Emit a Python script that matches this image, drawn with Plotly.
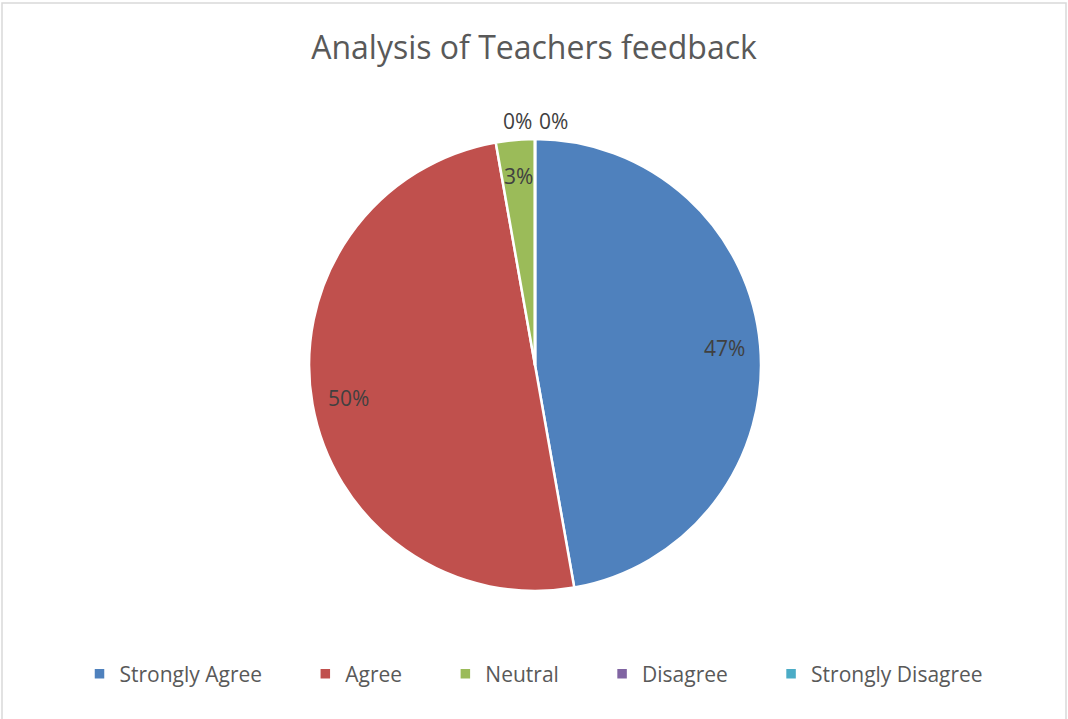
import math
import plotly.graph_objects as go

# Teachers feedback responses (counts)
labels = ["Strongly Agree", "Agree", "Neutral", "Disagree", "Strongly Disagree"]
counts = [17, 18, 1, 0, 0]
colors = ["#4F81BD", "#C0504D", "#9BBB59", "#8064A2", "#4BACC6"]

FONT = "Open Sans"
GREY = "#595959"
W, H = 1068, 719

# pie placement in pixels (centre + radius)
cx, cy, r = 535, 365, 226

fig = go.Figure()

fig.add_trace(go.Pie(
    labels=[lab + "\u00a0" * 7 if i < len(labels) - 1 else lab
            for i, lab in enumerate(labels)],
    values=counts,
    marker=dict(colors=colors, line=dict(color="white", width=2.5)),
    sort=False,
    direction="clockwise",
    rotation=0,
    textinfo="none",
    domain=dict(x=[(cx - r) / W, (cx + r) / W], y=[1 - (cy + r) / H, 1 - (cy - r) / H]),
    showlegend=True,
    hovertemplate="%{label}: %{percent}<extra></extra>",
))

# data labels, Excel-style: near the outer edge of each slice
total = sum(counts)
cum = 0
zero_i = 0
for c in counts:
    pct = f"{c / total:.0%}"
    if c == 0:
        # zero slices have no wedge; Excel stacks their labels above the top
        x, y = 517 + 36 * zero_i, 121
        zero_i += 1
    else:
        mid = (cum + c / 2) / total * 2 * math.pi
        x = cx + 0.84 * r * math.sin(mid)
        y = cy - 0.84 * r * math.cos(mid)
    cum += c
    fig.add_annotation(x=x / W, y=1 - y / H, xref="paper", yref="paper",
                       xanchor="center", yanchor="middle", text=pct, showarrow=False,
                       font=dict(family=FONT, size=21, color="#404040"))

fig.update_layout(
    width=W, height=H,
    margin=dict(l=0, r=0, t=0, b=0),
    paper_bgcolor="white",
    title=dict(text="Analysis of Teachers feedback", x=0.5, xanchor="center",
               y=1 - 48 / H, yanchor="middle",
               font=dict(family=FONT, size=32, color=GREY)),
    legend=dict(orientation="h", x=0.5, xanchor="center", y=1 - 674 / H,
                yanchor="middle", font=dict(family=FONT, size=21, color=GREY),
                itemclick=False, itemdoubleclick=False),
    shapes=[dict(type="rect", xref="paper", yref="paper", x0=2 / W, x1=1066 / W,
                 y0=-0.01, y1=1 - 3 / H, line=dict(color="#D9D9D9", width=1.5))],
)

fig.write_html("out.html", config={"displayModeBar": False},
               post_script="document.body.style.margin='0';")
